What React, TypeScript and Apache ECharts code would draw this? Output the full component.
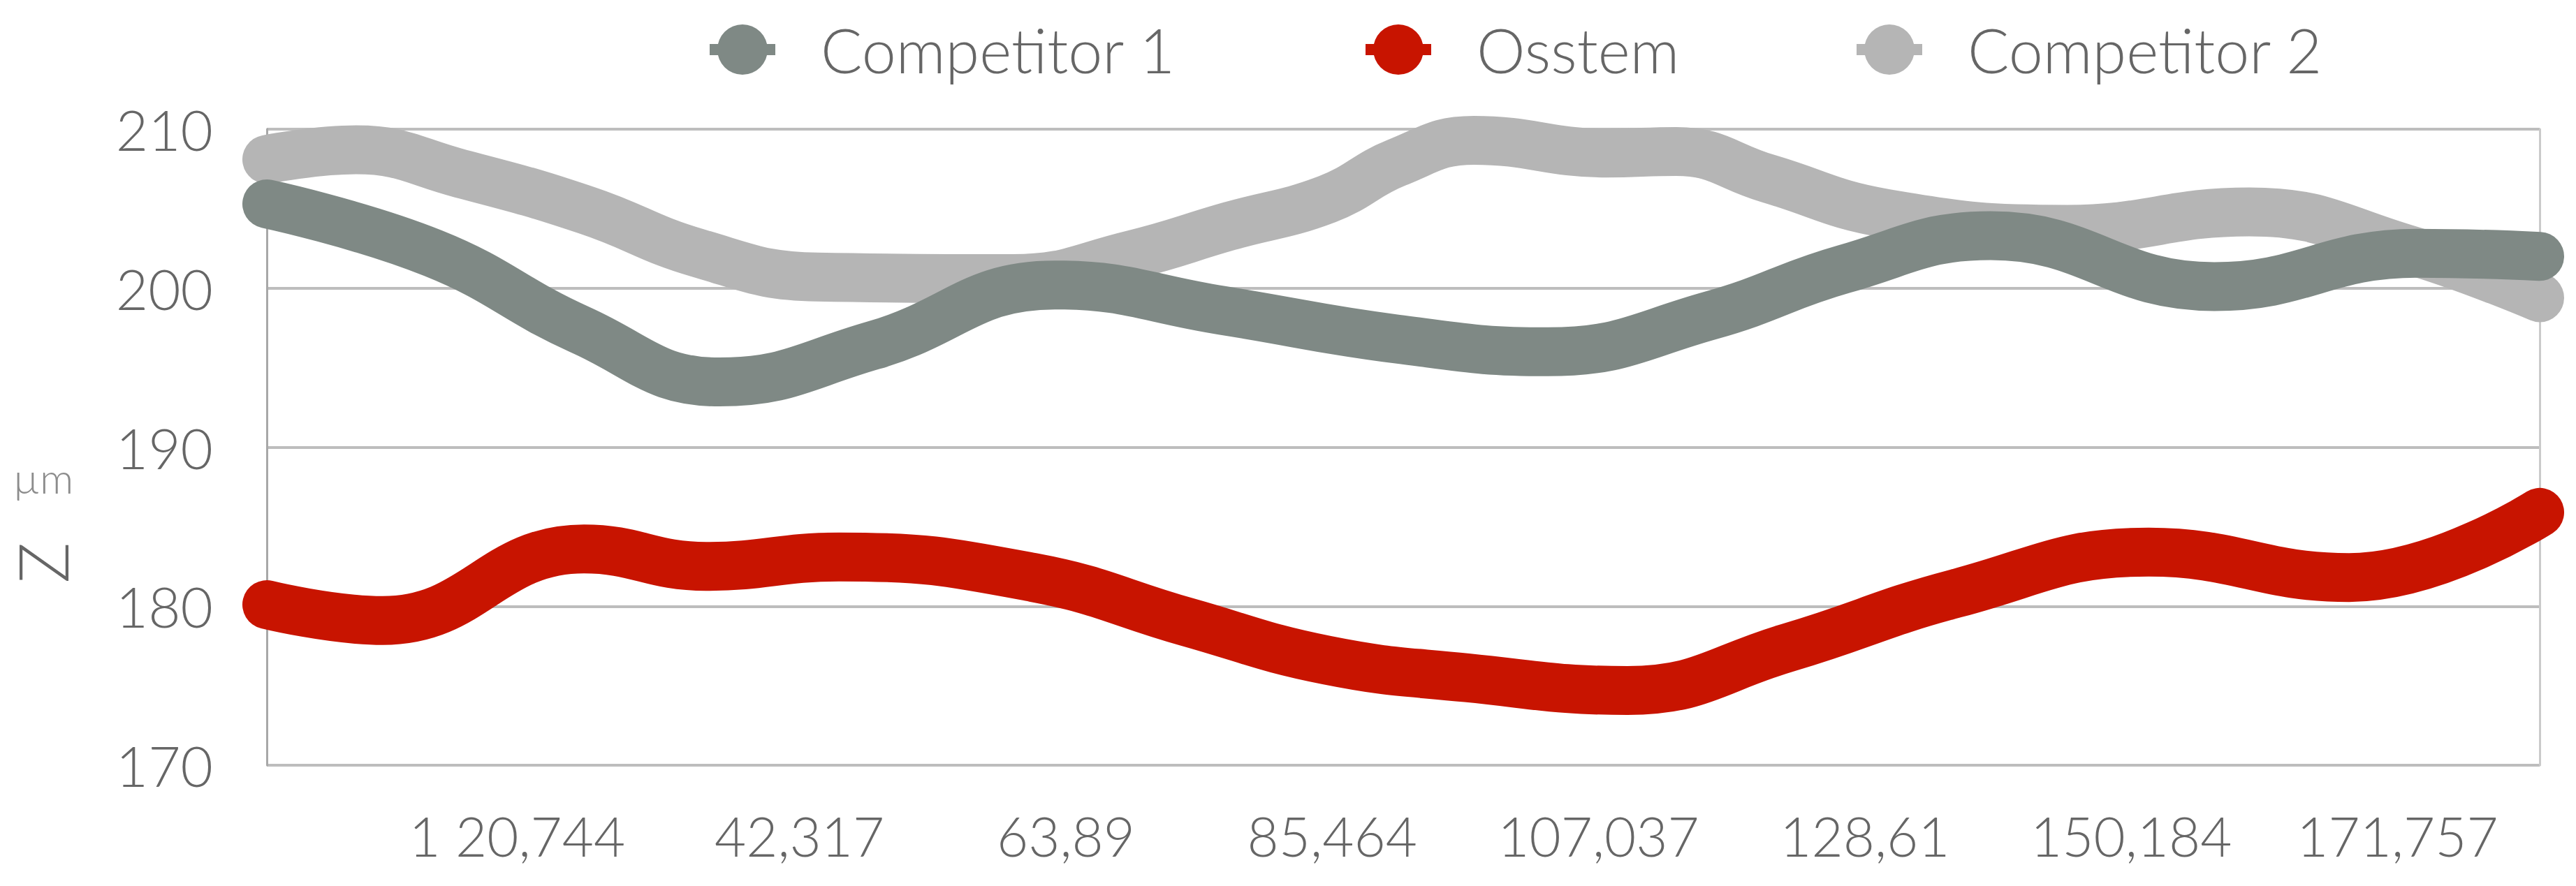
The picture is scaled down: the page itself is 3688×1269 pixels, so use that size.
import React, { useEffect, useRef } from "react";
import * as echarts from "echarts";

// Key points (x in axis units, y in µm)
const COMPETITOR1_X = [-0.83, 12.64, 24.52, 35.83, 48.28, 62.99, 76.57, 90.71, 102.93, 116.17, 126.92, 138.8, 156.91, 173.32, 183.27];
const COMPETITOR1_Y = [205.3, 202.2, 197.4, 194.1, 196.4, 200.2, 198.6, 196.8, 196.0, 198.3, 201.2, 203.3, 200.1, 202.2, 202.0];

const OSSTEM_X = [-0.83, 8.56, 24.86, 34.76, 45.51, 61.29, 73.74, 85.06, 96.37, 109.38, 122.4, 135.97, 151.59, 167.83, 183.27];
const OSSTEM_Y = [180.1, 179.1, 183.6, 182.5, 183.1, 181.8, 179.0, 176.6, 175.5, 174.7, 177.4, 180.8, 183.4, 181.8, 185.9];

const COMPETITOR2_X = [-0.83, 6.41, 14.9, 25.08, 34.14, 43.75, 59.6, 69.21, 77.13, 85.06, 90.71, 96.94, 107.69, 113.34, 120.76, 130.32, 145.03, 159.74, 172.75, 183.27];
const COMPETITOR2_Y = [208.1, 208.7, 207.2, 204.9, 202.2, 200.7, 200.6, 202.1, 203.9, 205.6, 207.9, 209.3, 208.5, 208.6, 206.9, 204.7, 203.7, 204.8, 202.4, 199.4];

const X_MIN = -0.83;
const X_MAX = 183.27;

const X_TICK_VALUES = [20.744, 42.317, 63.89, 85.464, 107.037, 128.61, 150.184, 171.757];
const X_TICK_LABELS = ["1 20,744", "42,317", "63,89", "85,464", "107,037", "128,61", "150,184", "171,757"];

const Y_MIN = 170;
const Y_MAX = 210;
const Y_STEP = 10;

const SERIES_NAMES = ["Competitor 1", "Osstem", "Competitor 2"];
const SERIES_COLORS = ["#7F8985", "#C81400", "#B5B5B5"];

const FONT = "Lato, 'Open Sans', 'DejaVu Sans', sans-serif";
const TEXT_COLOR = "#666666";

const LEGEND_ICON =
  "path://M11,36 A36,36 0 1,1 83,36 A36,36 0 1,1 11,36 Z M0,28 L94,28 L94,44 L0,44 Z";

export default function App() {
  const ref = useRef<HTMLDivElement>(null);

  useEffect(() => {
    document.body.style.margin = "0";
    if (!ref.current) return;
    const chart = echarts.init(ref.current, null, { renderer: "svg" });

    const pairs = (xs: number[], ys: number[]) => ys.map((v, i) => [xs[i], v]);
    const seriesData = [
      pairs(COMPETITOR1_X, COMPETITOR1_Y),
      pairs(OSSTEM_X, OSSTEM_Y),
      pairs(COMPETITOR2_X, COMPETITOR2_Y),
    ];

    const makeSeries = (idx: number, z: number) => ({
      name: SERIES_NAMES[idx],
      type: "line",
      data: seriesData[idx],
      smooth: 0.45,
      symbol: "none",
      showSymbol: false,
      clip: false,
      z,
      itemStyle: { color: SERIES_COLORS[idx] },
      lineStyle: { color: SERIES_COLORS[idx], width: 70, cap: "round", join: "round" },
    });

    const legendCommon = {
      top: 22,
      icon: LEGEND_ICON,
      itemWidth: 94,
      itemHeight: 72,
      selectedMode: false,
      textStyle: {
        fontFamily: FONT,
        fontWeight: 300,
        fontSize: 88,
        color: TEXT_COLOR,
        lineHeight: 72,
        padding: [0, 0, 0, 60],
      },
    };

    chart.setOption({
      animation: false,
      backgroundColor: "#ffffff",
      legend: [
        { ...legendCommon, left: 1011, data: [SERIES_NAMES[0]] },
        { ...legendCommon, left: 1950, data: [SERIES_NAMES[1]] },
        { ...legendCommon, left: 2653, data: [SERIES_NAMES[2]] },
      ],
      grid: {
        left: 382,
        right: 52,
        top: 185,
        bottom: 173,
        show: false,
      },
      xAxis: {
        type: "value",
        min: X_MIN,
        max: X_MAX,
        axisLine: {
          show: true,
          onZero: false,
          lineStyle: {
            color: "#A3A3A3",
            width: 5,
            shadowColor: "rgba(0,0,0,0.15)",
            shadowBlur: 3,
            shadowOffsetY: 3,
          },
        },
        axisTick: { show: false },
        splitLine: { show: false },
        axisLabel: {
          customValues: X_TICK_VALUES,
          margin: 62,
          fontFamily: FONT,
          fontWeight: 300,
          fontSize: 78,
          color: TEXT_COLOR,
          formatter: (v: number) => {
            const i = X_TICK_VALUES.findIndex((t) => Math.abs(t - v) < 1e-6);
            if (i < 0) return "";
            if (i === 0) return "{a|" + X_TICK_LABELS[i] + "}";
            return X_TICK_LABELS[i];
          },
          rich: {
            a: {
              fontFamily: FONT,
              fontWeight: 300,
              fontSize: 78,
              color: TEXT_COLOR,
              padding: [0, 46, 0, 0],
            },
          },
        },
      },
      yAxis: [
        {
          type: "value",
          min: Y_MIN,
          max: Y_MAX,
          interval: Y_STEP,
          axisLine: { show: true, onZero: false, lineStyle: { color: "#A8A8A8", width: 3 } },
          axisTick: { show: false },
          splitLine: { show: true, lineStyle: { color: "#BDBDBD", width: 4 } },
          axisLabel: {
            margin: 77,
            fontFamily: FONT,
            fontWeight: 300,
            fontSize: 80,
            color: TEXT_COLOR,
          },
        },
        {
          type: "value",
          position: "right",
          min: Y_MIN,
          max: Y_MAX,
          interval: Y_STEP,
          axisLine: { show: true, onZero: false, lineStyle: { color: "#CACACA", width: 3 } },
          axisTick: { show: false },
          splitLine: { show: false },
          axisLabel: { show: false },
        },
      ],
      graphic: [
        {
          type: "text",
          x: 62,
          y: 684,
          style: {
            text: "µm",
            fontFamily: FONT,
            fontWeight: 300,
            fontSize: 60,
            fill: "#8C8C8C",
            align: "center",
            verticalAlign: "middle",
          },
        },
        {
          type: "text",
          x: 60,
          y: 806,
          rotation: Math.PI / 2,
          style: {
            text: "Z",
            fontFamily: FONT,
            fontWeight: 300,
            fontSize: 98,
            fill: TEXT_COLOR,
            align: "center",
            verticalAlign: "middle",
          },
        },
      ],
      series: [makeSeries(2, 2), makeSeries(1, 3), makeSeries(0, 4)],
    });

    return () => {
      chart.dispose();
    };
  }, []);

  return <div ref={ref} style={{ width: "3688px", height: "1269px" }} />;
}
